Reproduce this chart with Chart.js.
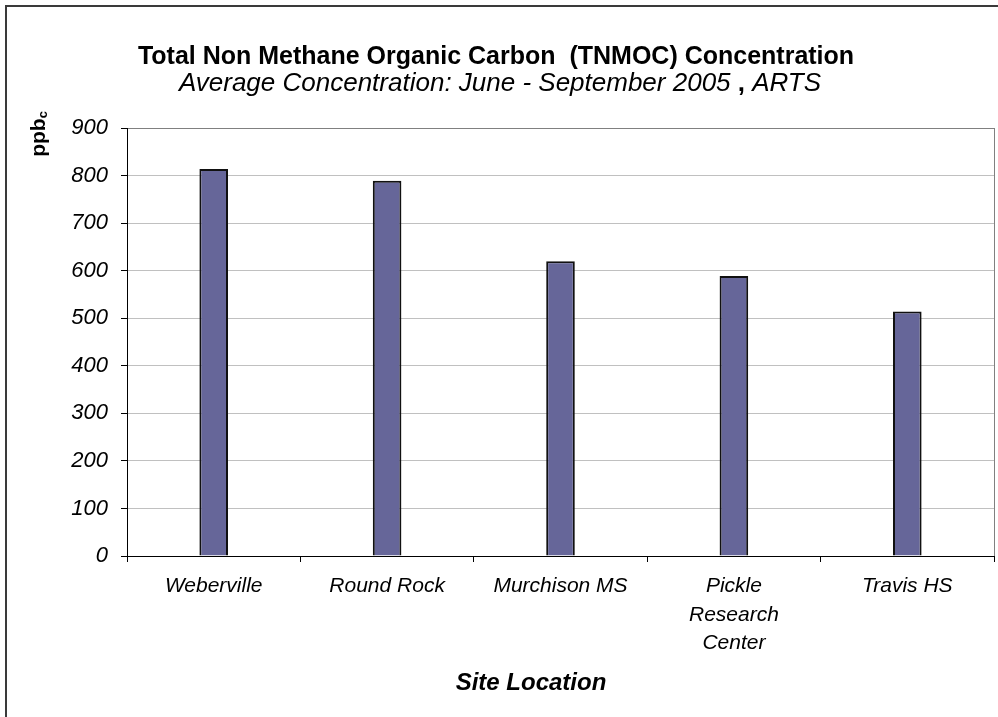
<!DOCTYPE html>
<html>
<head>
<meta charset="utf-8">
<script src="https://cdn.jsdelivr.net/npm/chart.js@4/dist/chart.umd.min.js"></script>
<style>
  html, body { margin: 0; padding: 0; background: #ffffff; }
  #wrap { width: 998px; height: 717px; }
</style>
</head>
<body>
<div id="wrap"><canvas id="c" width="998" height="717"></canvas></div>
<script>
// Site names (multi-line where the label wraps)
const sites = [
  'Weberville',
  'Round Rock',
  'Murchison MS',
  ['Pickle', 'Research', 'Center'],
  'Travis HS'
];
// Average TNMOC concentration, ppbC
const tnmoc = [814, 789, 620, 589, 514];
// Y axis range and tick spacing
const yMin = 0;
const yMax = 900;
const yStep = 100;

const titleText = 'Total Non Methane Organic Carbon  (TNMOC) Concentration';
const subtitleText = 'Average Concentration: June - September 2005 ';
const subtitleComma = ',';
const subtitleTail = ' ARTS';
const xTitle = 'Site Location';

const FONT = 'Arial, "Liberation Sans", sans-serif';

// Frame, titles and the rotated unit label
const decorations = {
  id: 'decorations',
  beforeDraw(chart) {
    const ctx = chart.ctx;
    ctx.save();
    ctx.fillStyle = '#ffffff';
    ctx.fillRect(0, 0, chart.width, chart.height);
    ctx.restore();
  },
  afterDraw(chart) {
    const ctx = chart.ctx;
    const a = chart.chartArea;
    ctx.save();
    // outer frame (top and left edges fall inside the canvas)
    ctx.strokeStyle = '#3a3a3a';
    ctx.lineWidth = 2;
    ctx.beginPath();
    ctx.moveTo(6, chart.height + 2);
    ctx.lineTo(6, 6);
    ctx.lineTo(chart.width + 2, 6);
    ctx.stroke();

    // plot area right edge
    ctx.strokeStyle = '#808080';
    ctx.lineWidth = 1;
    ctx.beginPath();
    ctx.moveTo(a.right + 0.5, a.top);
    ctx.lineTo(a.right + 0.5, a.bottom);
    ctx.stroke();

    // main title
    ctx.fillStyle = '#000000';
    ctx.textAlign = 'center';
    ctx.textBaseline = 'middle';
    ctx.font = 'bold 25px ' + FONT;
    ctx.fillText(titleText, 496, 57);

    // subtitle: italic text, bold comma, italic tail
    ctx.font = 'italic 26px ' + FONT;
    const w1 = ctx.measureText(subtitleText).width;
    const w3 = ctx.measureText(subtitleTail).width;
    ctx.font = 'bold 26px ' + FONT;
    const w2 = ctx.measureText(subtitleComma).width;
    let sx = 500 - (w1 + w2 + w3) / 2;
    ctx.textAlign = 'left';
    ctx.font = 'italic 26px ' + FONT;
    ctx.fillText(subtitleText, sx, 84);
    ctx.font = 'bold 26px ' + FONT;
    ctx.fillText(subtitleComma, sx + w1, 84);
    ctx.font = 'italic 26px ' + FONT;
    ctx.fillText(subtitleTail, sx + w1 + w2, 84);

    // x axis title
    ctx.textAlign = 'center';
    ctx.font = 'bold italic 24px ' + FONT;
    ctx.fillText(xTitle, 531, 683);

    // y axis unit label, rotated, with subscript c
    ctx.translate(39, 134);
    ctx.rotate(-Math.PI / 2);
    ctx.font = 'bold 21px ' + FONT;
    const pw = ctx.measureText('ppb').width;
    ctx.font = 'bold 13px ' + FONT;
    const cw = ctx.measureText('c').width;
    const start = -(pw + cw) / 2;
    ctx.textAlign = 'left';
    ctx.font = 'bold 21px ' + FONT;
    ctx.fillText('ppb', start, 0);
    ctx.font = 'bold 13px ' + FONT;
    ctx.fillText('c', start + pw, 4);
    ctx.restore();
  }
};

new Chart(document.getElementById('c'), {
  type: 'bar',
  data: {
    labels: sites,
    datasets: [{
      data: tnmoc,
      backgroundColor: '#666699',
      borderColor: '#111111',
      borderWidth: 2,
      categoryPercentage: 1,
      barPercentage: 0.165
    }]
  },
  options: {
    responsive: false,
    animation: false,
    devicePixelRatio: 1,
    layout: { padding: { top: 128, right: 4, left: 0, bottom: 0 } },
    plugins: {
      legend: { display: false },
      tooltip: { enabled: false },
      title: { display: false }
    },
    scales: {
      x: {
        afterFit(scale) { scale.height = 161; },
        border: { display: true, color: '#000000', width: 1 },
        grid: {
          display: true,
          drawOnChartArea: false,
          drawTicks: true,
          tickLength: 6,
          color: '#000000',
          offset: true
        },
        ticks: {
          color: '#000000',
          font: { family: FONT, size: 21, style: 'italic', lineHeight: 1.36 },
          padding: 10,
          maxRotation: 0,
          autoSkip: false
        }
      },
      y: {
        min: yMin,
        max: yMax,
        afterFit(scale) { scale.width = 127; },
        border: { display: true, color: '#000000', width: 1 },
        grid: {
          color: (c) => (c.tick && c.tick.value === yMax ? '#808080' : '#c0c0c0'),
          tickColor: '#000000',
          tickLength: 6
        },
        ticks: {
          stepSize: yStep,
          color: '#000000',
          padding: 13,
          font: { family: FONT, size: 22, style: 'italic' }
        }
      }
    }
  },
  plugins: [decorations]
});
</script>
</body>
</html>
